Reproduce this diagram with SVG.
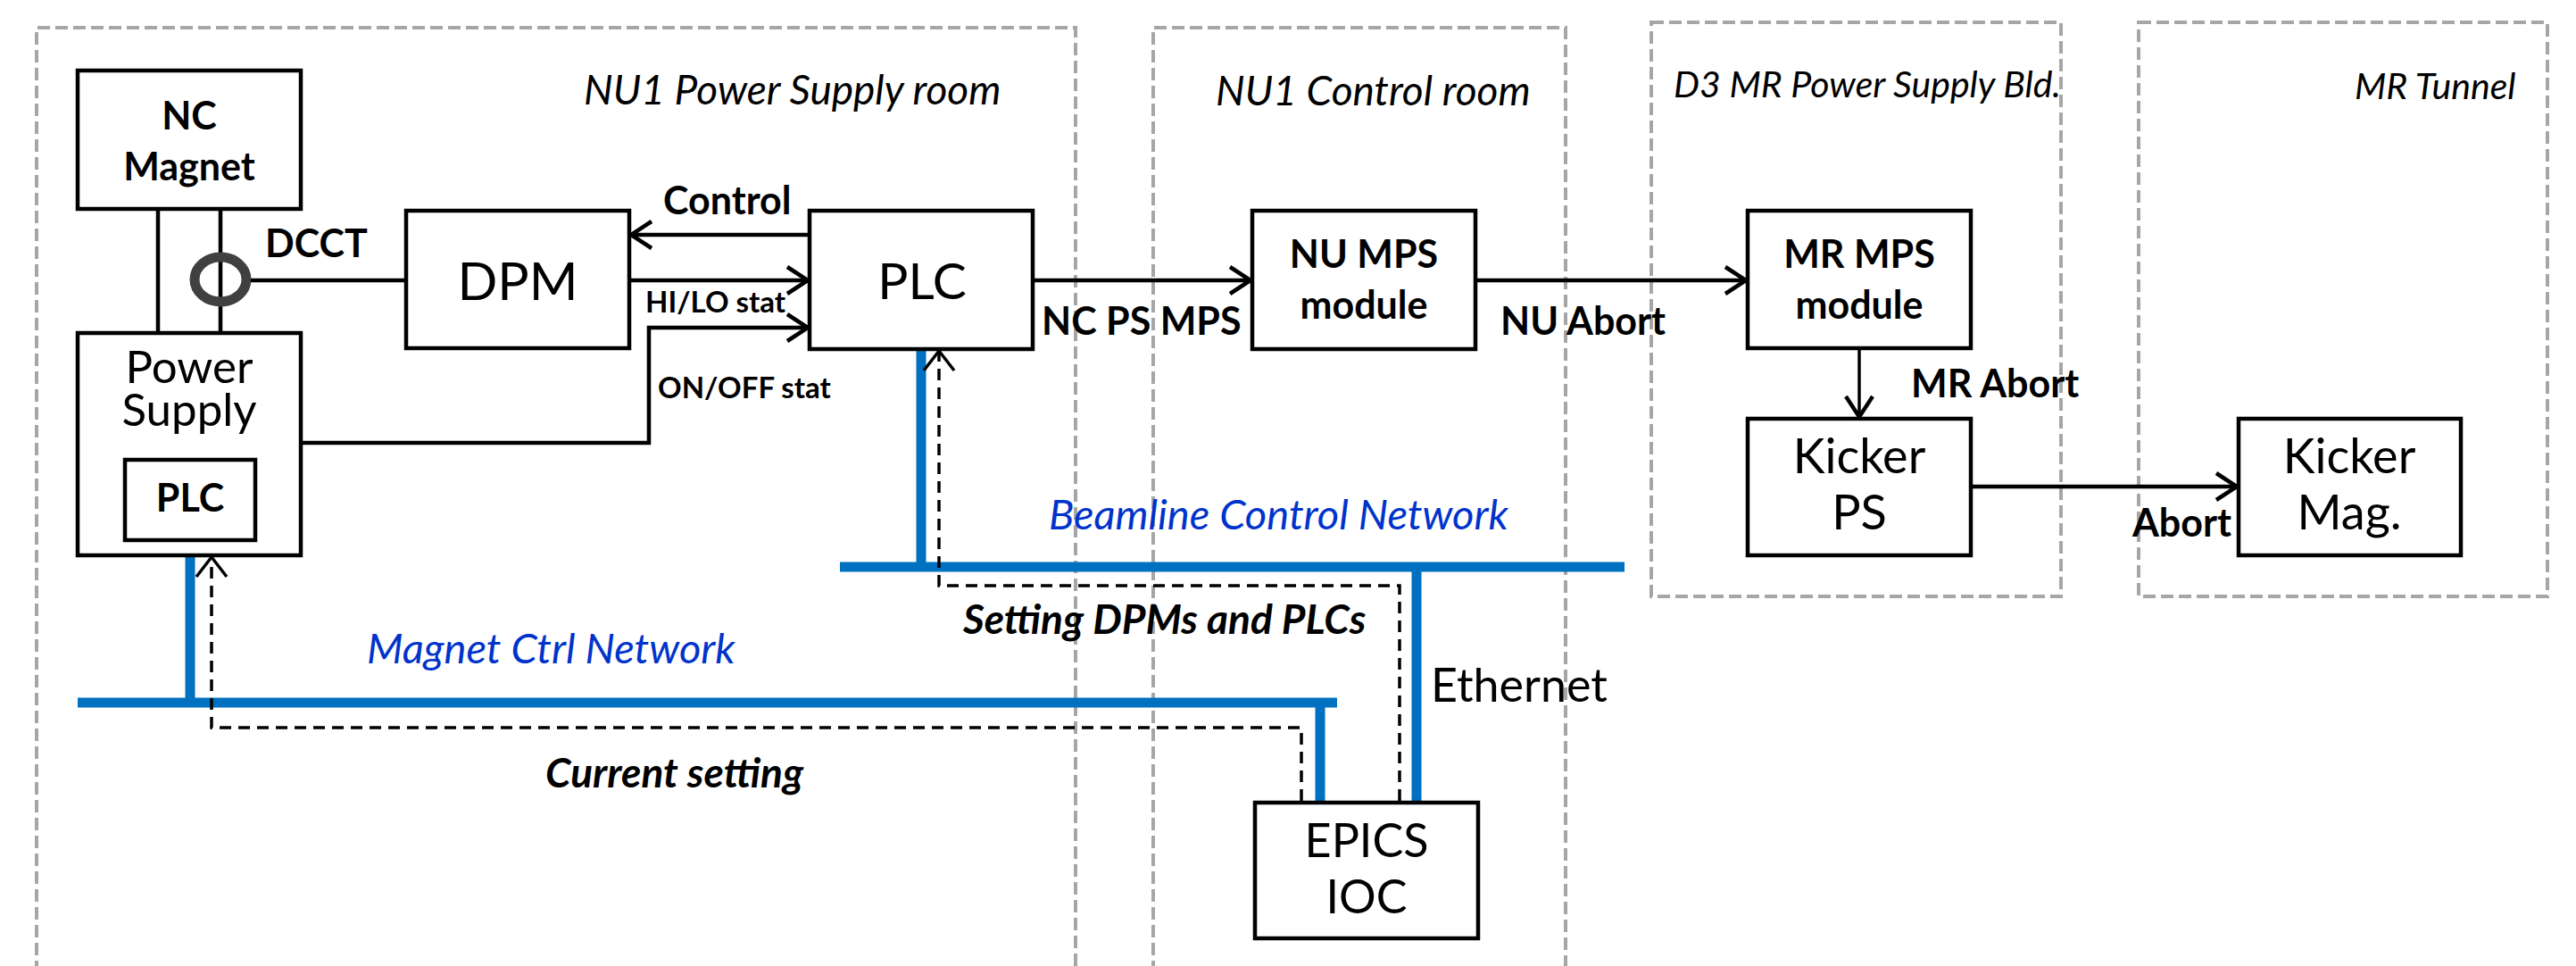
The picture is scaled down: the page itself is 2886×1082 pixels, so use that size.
<svg xmlns="http://www.w3.org/2000/svg" width="2886" height="1082" viewBox="0 0 2886 1082">
<style>
.room{fill:none;stroke:#A6A6A6;stroke-width:4;stroke-dasharray:14 6}
.box{fill:#fff;stroke:#000;stroke-width:4.5}
.ln{fill:none;stroke:#000;stroke-width:4.5}
.blue{fill:none;stroke:#0070C0;stroke-width:11}
.dash{fill:none;stroke:#000;stroke-width:3.5;stroke-dasharray:13 8}
text{font-family:Lato,"Open Sans","Liberation Sans",sans-serif;fill:#000}
.rl{font-style:italic;font-size:46px}
.rs{font-style:italic;font-size:41px}
.nl{font-style:italic;font-size:47px;fill:#0033CC}
.bl{font-weight:bold;font-size:43px}
.st{font-weight:bold;font-size:33px}
.bi{font-weight:bold;font-style:italic;font-size:46px}
.c{text-anchor:middle}
</style>
<defs>
<marker id="ah" markerUnits="userSpaceOnUse" markerWidth="40" markerHeight="40" viewBox="-30 -20 40 40" refX="0" refY="0" orient="auto" overflow="visible">
<path d="M-23,-15 L0,0 L-23,15" fill="none" stroke="#000" stroke-width="4.5"/>
</marker>
<marker id="ahd" markerUnits="userSpaceOnUse" markerWidth="40" markerHeight="40" viewBox="-30 -20 40 40" refX="0" refY="0" orient="auto" overflow="visible">
<path d="M-22,-17 L0,0 L-22,17" fill="none" stroke="#000" stroke-width="3.5"/>
</marker>
</defs>
<rect width="2886" height="1082" fill="#fff"/>
<g id="rooms">
<path class="room" d="M41,1090 V31 H1205 V1090"/>
<path class="room" d="M1292,1090 V31 H1754 V1090"/>
<rect class="room" x="1850" y="25" width="459" height="643"/>
<rect class="room" x="2396" y="25" width="458" height="643"/>
<text class="rl" x="654" y="117">NU1 Power Supply room</text>
<text class="rl" x="1362" y="118">NU1 Control room</text>
<text class="rs" x="1875" y="109">D3 MR Power Supply Bld.</text>
<text class="rs" x="2638" y="111">MR Tunnel</text>
</g>
<g id="connectors">
<line class="ln" x1="177" y1="234" x2="177" y2="373"/>
<line class="ln" x1="247" y1="234" x2="247" y2="373"/>
<ellipse cx="247" cy="313" rx="29" ry="25" fill="none" stroke="#404040" stroke-width="11"/>
<line class="ln" x1="281" y1="314" x2="455" y2="314"/>
<line class="ln" x1="907" y1="263" x2="707" y2="263" marker-end="url(#ah)"/>
<line class="ln" x1="705" y1="314" x2="905" y2="314" marker-end="url(#ah)"/>
<polyline class="ln" points="337,496 727,496 727,367 905,367" marker-end="url(#ah)"/>
<line class="ln" x1="1157" y1="314" x2="1401" y2="314" marker-end="url(#ah)"/>
<line class="ln" x1="1653" y1="314" x2="1956" y2="314" marker-end="url(#ah)"/>
<line x1="2083" y1="390" x2="2083" y2="467" stroke="#000" stroke-width="3.5" marker-end="url(#ah)"/>
<line class="ln" x1="2208" y1="545" x2="2506" y2="545" marker-end="url(#ah)"/>
<path class="blue" d="M213,607 V787 M87,787 H1498 M1479,787 V897 M1032,393 V635 M941,635 H1820 M1587,635 V897"/>
<polyline class="dash" points="1458,897 1458,815 237,815 237,624" marker-end="url(#ahd)"/>
<polyline class="dash" points="1568,897 1568,656 1052,656 1052,393" marker-end="url(#ahd)"/>
<text class="bl" x="297" y="288" font-size="42">DCCT</text>
<text class="bl" x="743" y="240" font-size="40">Control</text>
<text class="st" x="723" y="350">HI/LO stat</text>
<text class="st" x="737" y="446">ON/OFF stat</text>
<text class="bl" x="1167" y="375" font-size="42">NC PS MPS</text>
<text class="bl" x="1681" y="375">NU Abort</text>
<text class="bl" x="2141" y="445" font-size="44">MR Abort</text>
<text class="bl" x="2389" y="601" font-size="44">Abort</text>
<text class="nl" x="411" y="743">Magnet Ctrl Network</text>
<text class="nl" x="1175" y="593">Beamline Control Network</text>
<text class="bi" x="611" y="882">Current setting</text>
<text class="bi" x="1079" y="710">Setting DPMs and PLCs</text>
<text x="1603" y="786" font-size="52">Ethernet</text>
</g>
<g id="nc-magnet">
<rect class="box" x="87" y="79" width="250" height="155"/>
<text class="bl c" font-size="46"><tspan x="212" y="145">NC</tspan><tspan x="212" y="202">Magnet</tspan></text>
</g>
<g id="power-supply">
<rect class="box" x="87" y="373" width="250" height="249"/>
<text class="c" font-size="51"><tspan x="212" y="429">Power</tspan><tspan x="212" y="477">Supply</tspan></text>
</g>
<g id="ps-plc">
<rect class="box" x="140" y="515" width="146" height="90"/>
<text class="bl c" x="213" y="573" font-size="36">PLC</text>
</g>
<g id="dpm">
<rect class="box" x="455" y="236" width="250" height="154"/>
<text class="c" x="580" y="336" font-size="59">DPM</text>
</g>
<g id="plc">
<rect class="box" x="907" y="236" width="250" height="155"/>
<text class="c" x="1033" y="335" font-size="57">PLC</text>
</g>
<g id="nu-mps">
<rect class="box" x="1403" y="236" width="250" height="155"/>
<text class="bl c" font-size="44"><tspan x="1528" y="300">NU MPS</tspan><tspan x="1528" y="357">module</tspan></text>
</g>
<g id="mr-mps">
<rect class="box" x="1958" y="236" width="250" height="154"/>
<text class="bl c" font-size="44"><tspan x="2083" y="300">MR MPS</tspan><tspan x="2083" y="357">module</tspan></text>
</g>
<g id="kicker-ps">
<rect class="box" x="1958" y="469" width="250" height="153"/>
<text class="c" font-size="54"><tspan x="2083" y="530">Kicker</tspan><tspan x="2083" y="593">PS</tspan></text>
</g>
<g id="kicker-mag">
<rect class="box" x="2508" y="469" width="249" height="153"/>
<text class="c" font-size="54"><tspan x="2632" y="530">Kicker</tspan><tspan x="2632" y="593">Mag.</tspan></text>
</g>
<g id="epics-ioc">
<rect class="box" x="1406" y="899" width="250" height="152"/>
<text class="c" font-size="52"><tspan x="1531" y="960">EPICS</tspan><tspan x="1531" y="1023">IOC</tspan></text>
</g>
</svg>
